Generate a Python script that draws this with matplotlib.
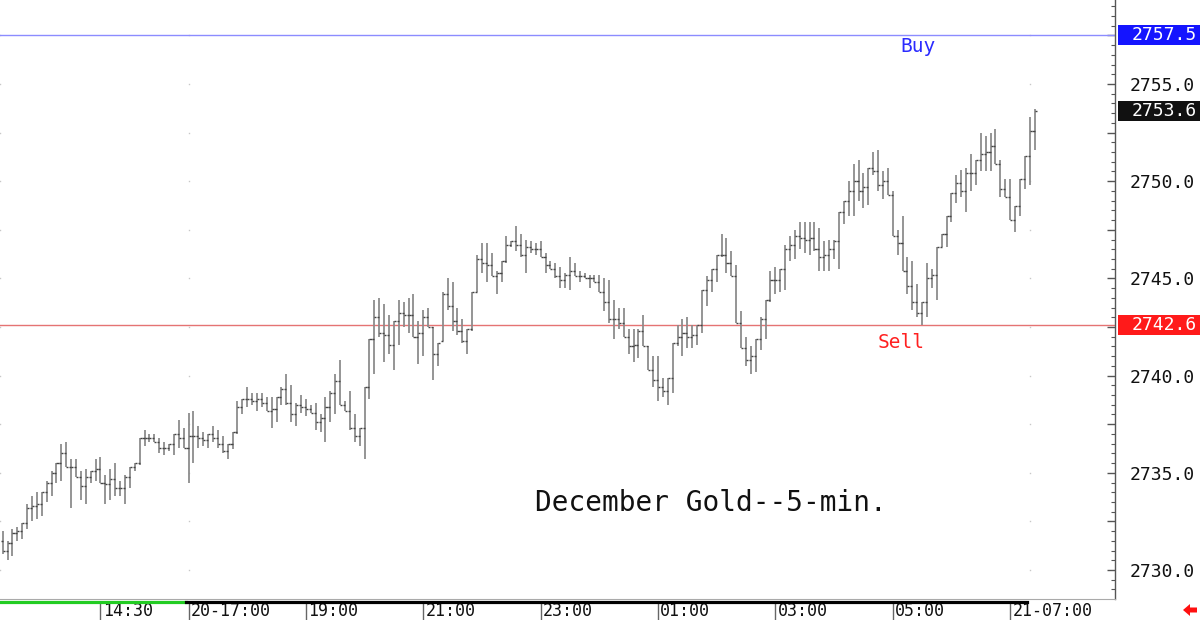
import numpy as np
import pandas as pd
import matplotlib
matplotlib.use("Agg")
import matplotlib.pyplot as plt
from matplotlib import transforms
from matplotlib.patches import Rectangle, Polygon
from matplotlib.lines import Line2D
from matplotlib.ticker import MultipleLocator, FuncFormatter

plt.rcParams['font.family'] = ['DejaVu Sans Mono']

# ---------------- data ----------------
bar_times = (list(pd.date_range('2024-10-20 12:50', '2024-10-20 15:55', freq='5min')) +
             list(pd.date_range('2024-10-20 17:00', '2024-10-21 07:25', freq='5min')))

highs = [2732.0, 2731.5, 2732.1, 2732.2, 2732.4, 2733.4, 2733.8, 2734.0, 2734.0, 2734.6,
         2735.1, 2735.5, 2736.5, 2736.6, 2735.7, 2735.7, 2735.1, 2735.2, 2735.1, 2735.7,
         2735.8, 2734.9, 2735.2, 2735.5, 2734.6, 2734.9, 2735.3, 2735.5, 2736.8, 2737.2,
         2737.0, 2737.0, 2736.8, 2736.6, 2736.5, 2737.0, 2737.7, 2737.3, 2738.1, 2738.2,
         2737.4, 2737.1, 2737.0, 2737.4, 2737.2, 2736.9, 2736.5, 2737.1, 2738.7, 2738.8,
         2739.4, 2739.1, 2739.1, 2739.1, 2738.9, 2738.9, 2738.9, 2739.4, 2740.1, 2739.5,
         2738.6, 2739.0, 2738.8, 2738.5, 2738.6, 2738.0, 2738.9, 2739.2, 2740.1, 2740.8,
         2738.7, 2739.2, 2738.0, 2737.3, 2739.4, 2741.9, 2743.9, 2744.0, 2743.7, 2743.1,
         2742.8, 2743.9, 2743.8, 2744.0, 2744.2, 2742.8, 2743.4, 2743.5, 2742.5, 2741.7,
         2744.3, 2745.0, 2744.8, 2743.5, 2742.9, 2742.4, 2744.3, 2746.2, 2746.8, 2746.8,
         2746.3, 2745.4, 2745.9, 2747.2, 2746.9, 2747.7, 2747.3, 2747.0, 2746.9, 2746.8,
         2746.9, 2746.3, 2745.9, 2745.8, 2745.6, 2745.3, 2746.1, 2745.8, 2745.4, 2745.3,
         2745.2, 2745.2, 2745.2, 2745.0, 2744.9, 2743.9, 2743.5, 2743.5, 2742.4, 2742.4,
         2742.4, 2743.1, 2741.5, 2741.0, 2741.0, 2739.9, 2739.9, 2741.7, 2742.6, 2742.9,
         2743.0, 2742.6, 2742.6, 2744.4, 2745.1, 2745.5, 2746.2, 2747.3, 2747.1, 2746.4,
         2745.7, 2743.3, 2742.0, 2741.5, 2741.9, 2743.0, 2743.9, 2745.4, 2745.6, 2745.5,
         2746.7, 2747.2, 2747.5, 2747.9, 2747.9, 2747.9, 2747.9, 2747.6, 2746.9, 2747.0,
         2747.0, 2748.4, 2749.0, 2750.0, 2750.9, 2751.1, 2750.4, 2750.7, 2751.5, 2751.6,
         2750.5, 2750.7, 2749.5, 2747.5, 2748.2, 2746.1, 2745.9, 2744.7, 2743.8, 2745.8,
         2745.5, 2746.6, 2747.3, 2748.2, 2749.4, 2750.3, 2750.6, 2750.7, 2751.4, 2751.1,
         2752.5, 2752.3, 2752.5, 2752.7, 2751.1, 2750.1, 2750.1, 2748.7, 2750.1, 2751.3,
         2753.3, 2753.7]

lows = [2730.8, 2730.5, 2730.7, 2731.5, 2731.6, 2732.1, 2732.5, 2732.6, 2732.8, 2733.5,
        2733.8, 2734.5, 2734.6, 2735.3, 2733.2, 2734.8, 2733.6, 2733.4, 2734.5, 2734.6,
        2734.5, 2733.4, 2733.6, 2733.8, 2733.8, 2733.4, 2734.2, 2735.1, 2735.4, 2736.4,
        2736.6, 2736.6, 2736.0, 2735.9, 2736.1, 2735.9, 2736.3, 2736.3, 2734.5, 2735.5,
        2736.3, 2736.4, 2736.3, 2736.6, 2736.3, 2736.0, 2735.7, 2736.2, 2737.0, 2738.0,
        2738.4, 2738.5, 2738.2, 2738.4, 2738.2, 2737.3, 2737.6, 2738.5, 2738.5, 2737.6,
        2737.4, 2738.1, 2737.9, 2738.1, 2737.2, 2737.1, 2736.6, 2737.6, 2738.0, 2738.5,
        2738.2, 2737.2, 2736.6, 2736.4, 2735.7, 2738.8, 2740.1, 2742.0, 2740.7, 2741.1,
        2740.3, 2741.6, 2742.5, 2742.2, 2742.0, 2740.6, 2741.0, 2742.5, 2739.8, 2740.5,
        2741.8, 2743.4, 2742.3, 2742.1, 2741.7, 2741.1, 2742.3, 2744.3, 2745.3, 2744.8,
        2745.1, 2744.2, 2744.8, 2745.8, 2746.6, 2746.4, 2746.1, 2745.3, 2746.3, 2746.2,
        2746.1, 2745.3, 2745.5, 2745.0, 2744.5, 2744.5, 2744.4, 2745.1, 2744.8, 2745.0,
        2744.5, 2744.8, 2744.3, 2743.3, 2742.7, 2741.9, 2742.4, 2742.0, 2741.1, 2740.7,
        2740.9, 2741.5, 2740.3, 2739.4, 2738.7, 2738.9, 2738.5, 2739.1, 2741.5, 2741.0,
        2741.4, 2741.4, 2741.6, 2742.2, 2743.6, 2744.3, 2744.8, 2746.1, 2745.3, 2745.1,
        2742.7, 2741.4, 2740.5, 2740.1, 2740.2, 2741.3, 2741.9, 2743.8, 2744.2, 2744.3,
        2744.4, 2745.9, 2746.0, 2746.5, 2746.3, 2746.2, 2746.4, 2745.4, 2745.4, 2745.4,
        2746.0, 2745.5, 2747.8, 2748.2, 2748.2, 2749.0, 2748.6, 2748.8, 2750.3, 2749.5,
        2749.1, 2749.3, 2747.2, 2746.2, 2745.4, 2744.2, 2743.4, 2743.0, 2742.6, 2743.0,
        2744.5, 2743.9, 2746.6, 2746.6, 2747.9, 2748.9, 2749.2, 2748.4, 2749.5, 2749.8,
        2750.5, 2750.5, 2750.5, 2750.9, 2749.2, 2749.2, 2748.0, 2747.4, 2748.2, 2749.6,
        2749.8, 2751.6]

opens = [2731.5, 2731.0, 2731.4, 2731.9, 2732.0, 2732.4, 2733.2, 2733.3, 2733.4, 2734.0,
         2734.5, 2735.0, 2735.5, 2736.0, 2735.3, 2735.3, 2734.8, 2734.3, 2734.8, 2735.1,
         2735.2, 2734.5, 2734.4, 2734.7, 2734.2, 2734.2, 2734.8, 2735.3, 2735.5, 2736.8,
         2736.8, 2736.8, 2736.6, 2736.3, 2736.3, 2736.5, 2737.0, 2736.8, 2736.3, 2736.9,
         2736.9, 2736.8, 2736.7, 2737.0, 2736.8, 2736.5, 2736.1, 2736.5, 2737.1, 2738.4,
         2738.8, 2738.8, 2738.7, 2738.8, 2738.6, 2738.2, 2738.3, 2738.9, 2739.3, 2738.6,
         2738.0, 2738.5, 2738.4, 2738.3, 2738.1, 2737.6, 2737.8, 2738.4, 2739.1, 2739.7,
         2738.5, 2738.2, 2737.3, 2736.9, 2737.3, 2739.4, 2741.9, 2743.0, 2742.2, 2742.1,
         2741.6, 2742.8, 2743.2, 2743.1, 2743.1, 2742.0, 2742.2, 2743.0, 2742.5, 2741.1,
         2741.8, 2744.2, 2743.6, 2742.8, 2742.3, 2741.8, 2742.4, 2744.3, 2746.0, 2745.8,
         2745.7, 2745.1, 2745.3, 2745.9, 2746.7, 2746.9, 2746.7, 2746.2, 2746.6, 2746.5,
         2746.5, 2746.1, 2745.7, 2745.5, 2745.1, 2744.9, 2745.2, 2745.4, 2745.1, 2745.1,
         2745.0, 2745.0, 2744.8, 2744.3, 2743.8, 2742.9, 2742.9, 2742.7, 2742.0, 2741.5,
         2741.6, 2742.3, 2741.5, 2740.3, 2739.8, 2739.4, 2739.2, 2739.9, 2741.7, 2742.0,
         2742.2, 2742.0, 2742.1, 2742.6, 2744.4, 2744.9, 2745.5, 2746.2, 2746.2, 2745.8,
         2745.1, 2742.7, 2741.4, 2740.8, 2741.0, 2741.9, 2742.9, 2743.9, 2744.9, 2744.9,
         2745.5, 2746.5, 2746.7, 2747.2, 2747.1, 2747.0, 2747.1, 2746.5, 2746.1, 2746.2,
         2746.5, 2746.9, 2748.4, 2749.0, 2749.5, 2750.0, 2749.5, 2749.7, 2750.7, 2750.5,
         2749.8, 2750.0, 2749.3, 2747.2, 2746.8, 2745.4, 2744.6, 2743.8, 2743.2, 2743.8,
         2745.0, 2745.2, 2746.6, 2747.3, 2748.2, 2749.4, 2749.9, 2749.5, 2750.4, 2750.4,
         2751.1, 2751.4, 2751.5, 2751.8, 2750.9, 2749.6, 2749.2, 2748.0, 2748.7, 2750.1,
         2751.3, 2752.6]

closes = [2731.0, 2731.4, 2731.9, 2732.0, 2732.4, 2733.2, 2733.3, 2733.4, 2734.0, 2734.5,
          2735.0, 2735.5, 2736.0, 2735.3, 2735.3, 2734.8, 2734.3, 2734.8, 2735.1, 2735.2,
          2734.5, 2734.4, 2734.7, 2734.2, 2734.2, 2734.8, 2735.3, 2735.5, 2736.8, 2736.8,
          2736.8, 2736.6, 2736.3, 2736.3, 2736.5, 2737.0, 2736.8, 2736.3, 2736.9, 2736.9,
          2736.8, 2736.7, 2737.0, 2736.8, 2736.5, 2736.1, 2736.5, 2737.1, 2738.4, 2738.8,
          2738.8, 2738.7, 2738.8, 2738.6, 2738.2, 2738.3, 2738.9, 2739.3, 2738.6, 2738.0,
          2738.5, 2738.4, 2738.3, 2738.1, 2737.6, 2737.8, 2738.4, 2739.1, 2739.7, 2738.5,
          2738.2, 2737.3, 2736.9, 2737.3, 2739.4, 2741.9, 2743.0, 2742.2, 2742.1, 2741.6,
          2742.8, 2743.2, 2743.1, 2743.1, 2742.0, 2742.2, 2743.0, 2742.5, 2741.1, 2741.7,
          2744.2, 2743.6, 2742.8, 2742.3, 2741.8, 2742.4, 2744.3, 2746.0, 2745.8, 2745.7,
          2745.1, 2745.3, 2745.9, 2746.7, 2746.9, 2746.7, 2746.2, 2746.6, 2746.5, 2746.5,
          2746.1, 2745.7, 2745.5, 2745.1, 2744.9, 2745.2, 2745.4, 2745.1, 2745.1, 2745.0,
          2745.0, 2744.8, 2744.3, 2743.8, 2742.9, 2742.9, 2742.7, 2742.0, 2741.5, 2741.6,
          2742.3, 2741.5, 2740.3, 2739.8, 2739.4, 2739.2, 2739.9, 2741.7, 2742.0, 2742.2,
          2742.0, 2742.1, 2742.6, 2744.4, 2744.9, 2745.5, 2746.2, 2746.2, 2745.8, 2745.1,
          2742.7, 2741.4, 2740.8, 2741.0, 2741.9, 2742.9, 2743.9, 2744.9, 2744.9, 2745.5,
          2746.5, 2746.7, 2747.2, 2747.1, 2747.0, 2747.1, 2746.5, 2746.1, 2746.2, 2746.5,
          2746.9, 2748.4, 2749.0, 2749.5, 2750.0, 2749.5, 2749.7, 2750.7, 2750.5, 2749.8,
          2750.0, 2749.3, 2747.2, 2746.8, 2745.4, 2744.6, 2743.8, 2743.2, 2743.8, 2745.0,
          2745.2, 2746.6, 2747.3, 2748.2, 2749.4, 2749.9, 2749.5, 2750.4, 2750.4, 2751.1,
          2751.4, 2751.5, 2751.8, 2750.9, 2749.6, 2749.2, 2748.0, 2748.7, 2750.1, 2751.3,
          2752.6, 2753.6]

tick_times = ['2024-10-20 14:30', '2024-10-20 17:00', '2024-10-20 19:00', '2024-10-20 21:00',
              '2024-10-20 23:00', '2024-10-21 01:00', '2024-10-21 03:00', '2024-10-21 05:00',
              '2024-10-21 07:00']
tick_labels = ['14:30', '20-17:00', '19:00', '21:00', '23:00', '01:00', '03:00', '05:00', '21-07:00']

buy_level = 2757.5
sell_level = 2742.6
last_price = closes[-1]
title_text = 'December Gold--5-min.'

# ---------------- figure ----------------
W, H = 1200, 620
fig = plt.figure(figsize=(W / 100, H / 100), dpi=100)
fig.patch.set_facecolor('white')
ax = fig.add_axes([0, 1 - 599 / H, 1115 / W, 599 / H])
ax.set_facecolor('white')

n = len(highs)
x = np.arange(n)
time_index = {t: i for i, t in enumerate(bar_times)}
tick_pos = [time_index[pd.Timestamp(t)] for t in tick_times]

ax.set_xlim(-0.55, 227.45)
ax.set_ylim(2728.51, 2759.32)

# faint dotted grid dots
grid_x = [-0.45, 38, 210]
grid_y = np.arange(2730, 2760, 2.5)
gx, gy = np.meshgrid(grid_x, grid_y)
ax.plot(gx.ravel(), gy.ravel(), linestyle='none', marker='s', ms=1.0,
        color='#c8c8c8', mec='none', zorder=1)

# horizontal levels
ax.axhline(buy_level, color='#8c8cff', lw=1.0, zorder=2)
ax.axhline(sell_level, color='#e57373', lw=1.0, zorder=2)

# OHLC bars
ax.vlines(x, lows, highs, color='#8c8c8c', lw=1.3, zorder=3)
ax.hlines(opens, x - 0.42, x, color='#444444', lw=1.0, zorder=4)
ax.hlines(closes, x, x + 0.42, color='#444444', lw=1.0, zorder=4)

# texts
ax.text(187.2, buy_level - 0.55, 'Buy', color='#2b2bff', fontsize=14,
        ha='center', va='center', zorder=5)
ax.text(183.7, sell_level - 0.9, 'Sell', color='#ff2020', fontsize=14,
        ha='center', va='center', zorder=5)
ax.text(144.8, 2733.45, title_text, color='#111111', fontsize=20,
        ha='center', va='center', zorder=5)

# spines & ticks
for s in ['top', 'left']:
    ax.spines[s].set_visible(False)
ax.spines['right'].set_color('#555555')
ax.spines['right'].set_linewidth(1.0)
ax.spines['bottom'].set_color('#aaaaaa')
ax.spines['bottom'].set_linewidth(0.8)
ax.set_xticks([])
ax.yaxis.tick_right()
ax.yaxis.set_major_locator(MultipleLocator(2.5))
ax.yaxis.set_minor_locator(MultipleLocator(0.5))
ax.yaxis.set_major_formatter(FuncFormatter(
    lambda v, p: ('%.1f' % v) if abs(v / 5 - round(v / 5)) < 1e-6 else ''))
ax.tick_params(axis='y', which='major', direction='in', length=6, width=1,
               color='#555555', pad=10.5, labelsize=13, labelcolor='#111111')
ax.tick_params(axis='y', which='minor', direction='in', length=3, width=0.8,
               color='#555555')

# price boxes on the right
btr = transforms.blended_transform_factory(fig.transFigure, ax.transData)
box_h = 20 / 19.44
for level, col in [(buy_level, '#1414ff'), (last_price, '#111111'), (sell_level, '#ff1a1a')]:
    ax.add_patch(Rectangle((1118 / W, level - box_h / 2), 82 / W, box_h,
                           transform=btr, facecolor=col, edgecolor='none',
                           clip_on=False, zorder=6))
    ax.text(1197 / W, level, '%.1f' % level, transform=btr, color='white',
            fontsize=13, ha='right', va='center', clip_on=False, zorder=7)

# bottom time strip
xtr = transforms.blended_transform_factory(ax.transData, fig.transFigure)
y_strip = 1 - 601.5 / H
ax.add_line(Line2D([-0.55, 37.5], [y_strip, y_strip], transform=xtr,
                   color='#22cc22', lw=2.3, clip_on=False, zorder=6))
ax.add_line(Line2D([37.5, 209.5], [y_strip, y_strip], transform=xtr,
                   color='black', lw=2.3, clip_on=False, zorder=6))
for p, lab in zip(tick_pos, tick_labels):
    ax.add_line(Line2D([p, p], [1 - 603 / H, 0], transform=xtr,
                       color='#666666', lw=1.0, clip_on=False))
    ax.text(p + 0.45, 1 - 611 / H, lab, transform=xtr, fontsize=12,
            ha='left', va='center', color='#111111', clip_on=False)

# red arrow at bottom right
pts = [(1183, 610), (1190, 604), (1190, 607.5), (1197, 607.5),
       (1197, 612.5), (1190, 612.5), (1190, 616)]
fig.add_artist(Polygon([(px / W, 1 - py / H) for px, py in pts], closed=True,
                       transform=fig.transFigure, facecolor='#ff1010',
                       edgecolor='none'))

fig.savefig('out.png', dpi=100, facecolor='white')
